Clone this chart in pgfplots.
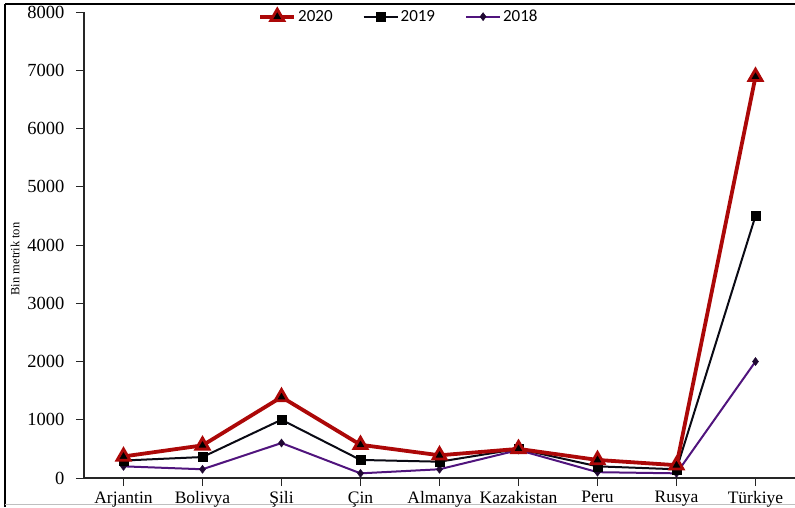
\documentclass[border=0pt]{standalone}
\usepackage{pgfplots}
\pgfplotsset{compat=1.18}
\usepackage{fontspec}
\setmainfont{Liberation Serif}
\newfontfamily\legendfont{Carlito}
\definecolor{c2020}{RGB}{172,8,8}
\definecolor{c2019}{RGB}{10,10,20}
\definecolor{c2018}{RGB}{80,20,125}

\begin{document}
\begin{tikzpicture}[x=1pt,y=1pt]
\path[use as bounding box] (0,0) rectangle (795,507);
% frame of the picture
\draw[line width=2pt,black] (5,503) -- (795,503);
\draw[line width=1.3pt,black] (5,503) -- (5,0);
\draw[line width=1pt,gray!50] (5,3) -- (795,3);
\begin{axis}[
    at={(84pt,29pt)}, anchor=south west,
    scale only axis,
    width=711pt, height=466pt,
    xmin=-0.5, xmax=8.5,
    ymin=0, ymax=8000,
    axis x line*=bottom, axis y line*=left,
    axis line style={line width=1.2pt, black!85},
    xtick={0,...,8},
    xticklabels={Arjantin,Bolivya,Şili,Çin,Almanya,Kazakistan,Peru,Rusya,Türkiye},
    ytick={0,1000,...,8000},
    yticklabels={0,1000,2000,3000,4000,5000,6000,7000,8000},
    tick style={black!85, line width=1pt},
    major tick length=8pt,
    tick align=outside,
    yticklabel style={font=\rmfamily\fontsize{18.5}{20}\selectfont, xshift=-8pt},
    xticklabel style={font=\rmfamily\fontsize{17.5}{19}\selectfont, yshift=-2pt},
    ylabel={Bin metrik ton},
    ylabel style={font=\rmfamily\fontsize{12.5}{14}\selectfont, at={(axis description cs:-0.097,0.47)}, anchor=center},
    clip=false,
    legend columns=3,
    reverse legend,
    legend style={at={(axis description cs:0.443,0.99)}, anchor=center, draw=none, fill=none,
        font=\legendfont\fontsize{17}{19}\selectfont, /tikz/every even column/.append style={column sep=28pt}},
    legend image code/.code={\draw[mark repeat=2,mark phase=2] plot coordinates {(0pt,0pt) (17pt,0pt) (34pt,0pt)};},
]
\addplot[c2018, line width=2pt, mark=diamond*, mark size=4pt,
    mark options={fill=c2018!40!black, draw=c2018!40!black, line width=0.5pt}]
    coordinates {(0,200) (1,150) (2,600) (3,80) (4,150) (5,480) (6,100) (7,80) (8,2000)};
\addlegendentry{2018}
\addplot[c2019, line width=2pt, mark=square*, mark size=4.5pt,
    mark options={fill=black, draw=black, line width=0.5pt}]
    coordinates {(0,300) (1,360) (2,1000) (3,310) (4,280) (5,500) (6,200) (7,150) (8,4500)};
\addlegendentry{2019}
\addplot[c2020, line width=3.8pt, mark=triangle*, mark size=7.5pt,
    mark options={fill=black, draw=c2020, line width=2.8pt}]
    coordinates {(0,370) (1,560) (2,1390) (3,570) (4,390) (5,500) (6,310) (7,220) (8,6890)};
\addlegendentry{2020}
\end{axis}
\end{tikzpicture}
\end{document}
